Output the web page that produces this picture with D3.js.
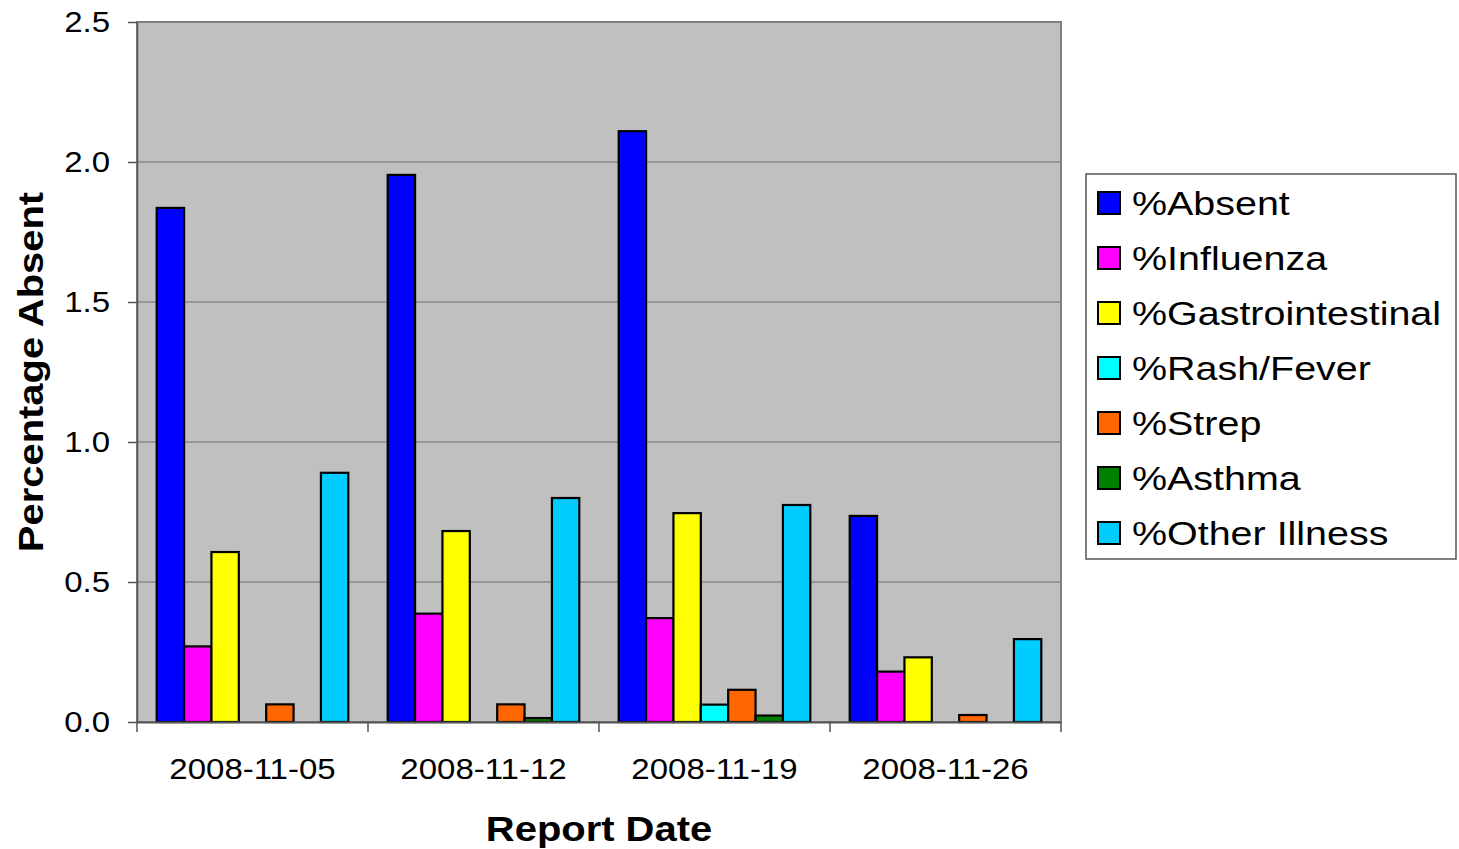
<html>
<head>
<meta charset="utf-8">
<title>Percentage Absent by Report Date</title>
<style>
  body { margin: 0; background: #fff; }
  text { font-family: Arial, "Liberation Sans", sans-serif; }
</style>
</head>
<body>
<script src="https://cdn.jsdelivr.net/npm/d3@7/dist/d3.min.js"></script>
<script>
    var w = 1459, h = 849;
    var margin = {top: 22, right: 398, bottom: 127, left: 137};

    var dates = ['2008-11-05', '2008-11-12', '2008-11-19', '2008-11-26'];
    var seriesNames = ['%Absent', '%Influenza', '%Gastrointestinal', '%Rash/Fever', '%Strep', '%Asthma', '%Other Illness'];
    var seriesColors = ['#0000FF', '#FF00FF', '#FFFF00', '#00FFFF', '#FF6600', '#008000', '#00CCFF'];

    var absent = [1.836, 1.954, 2.110, 0.736];
    var influenza = [0.270, 0.387, 0.371, 0.180];
    var gastro = [0.607, 0.682, 0.746, 0.231];
    var rash = [0, 0, 0.062, 0];
    var strep = [0.063, 0.063, 0.115, 0.025];
    var asthma = [0, 0.014, 0.023, 0];
    var other = [0.890, 0.800, 0.775, 0.296];
    var yTicks = [0, 0.5, 1.0, 1.5, 2.0, 2.5];

    var seriesValues = [absent, influenza, gastro, rash, strep, asthma, other];

    var svg = d3.select('body').append('svg')
        .attr('width', w)
        .attr('height', h);

    var pw = w - margin.left - margin.right,
        ph = h - margin.top - margin.bottom;

    var g = svg.append('g').attr('transform', 'translate(' + margin.left + ',' + margin.top + ')');

    var x0 = d3.scaleBand().domain(dates).range([0, pw]);
    var x1 = d3.scaleBand().domain(d3.range(seriesNames.length))
        .range([0, x0.bandwidth()]).paddingOuter(0.72).paddingInner(0);
    var y = d3.scaleLinear().domain([0, 2.5]).range([ph, 0]);

    // plot background
    g.append('rect')
        .attr('width', pw).attr('height', ph)
        .attr('fill', '#C0C0C0');

    // gridlines
    g.selectAll('.grid').data(yTicks.slice(1, -1)).enter()
        .append('line')
        .attr('x1', 0).attr('x2', pw)
        .attr('y1', function(d) { return y(d); })
        .attr('y2', function(d) { return y(d); })
        .attr('stroke', '#6E6E6E').attr('stroke-width', 1);

    // plot border
    g.append('rect')
        .attr('width', pw).attr('height', ph)
        .attr('fill', 'none')
        .attr('stroke', '#808080').attr('stroke-width', 2);

    // bars
    var groups = g.selectAll('.grp').data(dates).enter()
        .append('g')
        .attr('transform', function(d) { return 'translate(' + x0(d) + ',0)'; });

    groups.selectAll('rect')
        .data(function(d, i) {
            return seriesValues.map(function(vals, s) { return {s: s, v: vals[i]}; })
                .filter(function(o) { return o.v > 0; });
        })
        .enter().append('rect')
        .attr('x', function(d) { return x1(d.s); })
        .attr('width', x1.bandwidth())
        .attr('y', function(d) { return y(d.v); })
        .attr('height', function(d) { return y(0) - y(d.v); })
        .attr('fill', function(d) { return seriesColors[d.s]; })
        .attr('stroke', '#000').attr('stroke-width', 2.2);

    // y axis
    var yAxis = g.append('g')
        .call(d3.axisLeft(y).tickValues(yTicks).tickFormat(d3.format('.1f')).tickSize(9).tickSizeOuter(0));
    yAxis.select('.domain').attr('stroke', '#555').attr('stroke-width', 1.5);
    yAxis.selectAll('.tick line').attr('stroke', '#555').attr('stroke-width', 1.5);
    yAxis.selectAll('.tick text')
        .attr('x', 0)
        .attr('transform', 'translate(-27,0) scale(1.1,1)')
        .style('font-size', '30px').style('font-family', 'Arial, "Liberation Sans", sans-serif')
        .attr('fill', '#000');

    // x axis
    var xAxis = g.append('g').attr('transform', 'translate(0,' + ph + ')')
        .call(d3.axisBottom(x0).tickSize(0).tickSizeOuter(0));
    xAxis.select('.domain').attr('stroke', '#555').attr('stroke-width', 2);
    xAxis.selectAll('.tick text')
        .attr('y', 36)
        .attr('transform', 'scale(1.1,1)')
        .style('font-size', '30px').style('font-family', 'Arial, "Liberation Sans", sans-serif')
        .attr('fill', '#000');
    xAxis.selectAll('.sep')
        .data(dates.map(function(d) { return x0(d); }).concat([pw]))
        .enter().append('line')
        .attr('x1', function(d) { return d; }).attr('x2', function(d) { return d; })
        .attr('y1', 0).attr('y2', 10)
        .attr('stroke', '#555').attr('stroke-width', 1.5);

    // axis titles
    svg.append('text')
        .attr('transform', 'translate(' + (margin.left + pw / 2) + ',841) scale(1.11,1)')
        .attr('text-anchor', 'middle')
        .style('font-size', '36px').style('font-weight', 'bold')
        .text('Report Date');

    svg.append('text')
        .attr('transform', 'translate(43,' + (margin.top + ph / 2) + ') rotate(-90) scale(1.11,1)')
        .attr('text-anchor', 'middle')
        .style('font-size', '36px').style('font-weight', 'bold')
        .text('Percentage Absent');

    // legend
    var legend = svg.append('g').attr('transform', 'translate(1086,174)');
    legend.append('rect')
        .attr('width', 370).attr('height', 385)
        .attr('fill', '#fff').attr('stroke', '#555').attr('stroke-width', 1.5);

    var items = legend.selectAll('.item').data(seriesNames).enter()
        .append('g')
        .attr('transform', function(d, i) { return 'translate(0,' + (29 + i * 55) + ')'; });
    items.append('rect')
        .attr('x', 12).attr('y', -11).attr('width', 22).attr('height', 22)
        .attr('fill', function(d, i) { return seriesColors[i]; })
        .attr('stroke', '#000').attr('stroke-width', 2);
    items.append('text')
        .attr('transform', 'translate(46,12) scale(1.16,1)')
        .style('font-size', '34px')
        .text(function(d) { return d; });
</script>
</body>
</html>
